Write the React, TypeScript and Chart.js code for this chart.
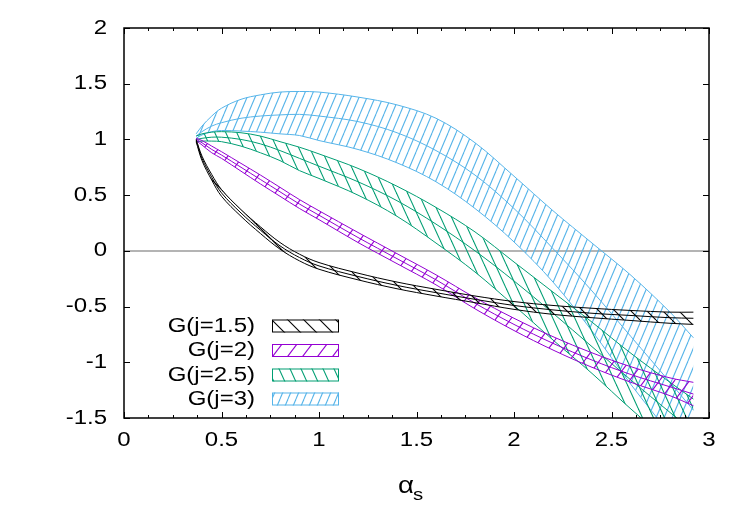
import React, { useEffect, useRef } from 'react';
import { Chart, registerables } from 'chart.js';

Chart.register(...registerables);

// Strong coupling values at which the bands are evaluated
const alphaS = [0.37, 0.4, 0.45, 0.5, 0.6, 0.7, 0.8, 0.9, 1.0, 1.2, 1.4, 1.6, 1.8, 2.0, 2.2, 2.4, 2.6, 2.8, 2.92];

// G(j=1.5): upper edge, central value, lower edge
const g15Upper = [1.0, 0.85, 0.685, 0.55, 0.37, 0.215, 0.075, -0.03, -0.105, -0.2, -0.28, -0.345, -0.405, -0.455, -0.49, -0.515, -0.535, -0.55, -0.55];
const g15Central = [0.99, 0.83, 0.66, 0.52, 0.34, 0.185, 0.045, -0.06, -0.135, -0.23, -0.31, -0.375, -0.435, -0.49, -0.53, -0.56, -0.58, -0.6, -0.605];
const g15Lower = [0.98, 0.81, 0.635, 0.49, 0.31, 0.155, 0.015, -0.09, -0.165, -0.26, -0.34, -0.405, -0.465, -0.525, -0.57, -0.6, -0.625, -0.65, -0.66];

// G(j=2)
const g2Upper = [1.01, 0.99, 0.94, 0.89, 0.785, 0.68, 0.57, 0.46, 0.36, 0.165, -0.025, -0.215, -0.42, -0.605, -0.77, -0.915, -1.04, -1.14, -1.18];
const g2Central = [1.0, 0.97, 0.91, 0.86, 0.75, 0.64, 0.53, 0.42, 0.32, 0.12, -0.07, -0.26, -0.47, -0.66, -0.83, -0.98, -1.11, -1.22, -1.285];
const g2Lower = [0.99, 0.95, 0.88, 0.83, 0.715, 0.6, 0.49, 0.38, 0.28, 0.075, -0.115, -0.305, -0.52, -0.715, -0.89, -1.045, -1.18, -1.3, -1.39];

// G(j=2.5)
const g25Upper = [1.03, 1.05, 1.065, 1.07, 1.06, 1.03, 0.98, 0.93, 0.87, 0.74, 0.58, 0.39, 0.17, -0.1, -0.37, -0.64, -0.92, -1.18, -1.33];
const g25Central = [1.0, 1.01, 1.02, 1.02, 1.0, 0.96, 0.9, 0.83, 0.76, 0.62, 0.45, 0.24, 0.0, -0.27, -0.56, -0.86, -1.16, -1.45, -1.62];
const g25Lower = [0.98, 0.985, 0.985, 0.98, 0.94, 0.88, 0.81, 0.72, 0.65, 0.5, 0.31, 0.07, -0.19, -0.49, -0.8, -1.1, -1.42, -1.72, -1.9];

// G(j=3)
const g3Upper = [1.05, 1.12, 1.21, 1.28, 1.36, 1.4, 1.425, 1.43, 1.425, 1.38, 1.31, 1.19, 0.97, 0.67, 0.36, 0.07, -0.22, -0.55, -0.78];
const g3Central = [1.03, 1.07, 1.12, 1.15, 1.19, 1.21, 1.22, 1.225, 1.21, 1.16, 1.06, 0.9, 0.68, 0.38, 0.02, -0.36, -0.77, -1.18, -1.43];
const g3Lower = [1.01, 1.04, 1.07, 1.08, 1.075, 1.065, 1.05, 1.035, 0.99, 0.91, 0.79, 0.62, 0.38, 0.08, -0.28, -0.72, -1.2, -1.65, -1.95];

const legendLabels = ['G(j=1.5)', 'G(j=2)', 'G(j=2.5)', 'G(j=3)'];
const bandColors = ['#000000', '#9400d3', '#009e73', '#56b4e9'];

const xTickValues = [0, 0.5, 1, 1.5, 2, 2.5, 3];
const yTickValues = [-1.5, -1, -0.5, 0, 0.5, 1, 1.5, 2];

const FONT = '"Liberation Sans", Arial, Helvetica, sans-serif';
const TEXT_SIZE = 20;
const TEXT_STRETCH = 1.2;

type Hatch = { dir: 1 | -1; spacing: number; slope: number };
// hatch style per band: dir 1 = "/", dir -1 = "\"
const hatches: Hatch[] = [
  { dir: -1, spacing: 16, slope: 1 },
  { dir: 1, spacing: 15, slope: 1.3 },
  { dir: -1, spacing: 11, slope: 2.2 },
  { dir: 1, spacing: 8, slope: 2.4 },
];

function makeHatch(ctx: CanvasRenderingContext2D, color: string, h: Hatch): CanvasPattern | string {
  const w = h.spacing;
  const ht = Math.max(1, Math.round(h.spacing * h.slope));
  const c = document.createElement('canvas');
  c.width = w;
  c.height = ht;
  const g = c.getContext('2d');
  if (!g) return color;
  g.strokeStyle = color;
  g.lineWidth = 1.1;
  for (let k = -1; k <= 1; k++) {
    g.beginPath();
    if (h.dir === 1) {
      g.moveTo(k * w, ht);
      g.lineTo(k * w + w, 0);
    } else {
      g.moveTo(k * w, 0);
      g.lineTo(k * w + w, ht);
    }
    g.stroke();
  }
  return ctx.createPattern(c, 'repeat') || color;
}

// text widened horizontally around its anchor point
function stretchedText(c: CanvasRenderingContext2D, text: string, x: number, y: number, align: CanvasTextAlign) {
  c.save();
  c.translate(x, y);
  c.scale(TEXT_STRETCH, 1);
  c.textAlign = align;
  c.fillText(text, 0, 0);
  c.restore();
}

const toPoints = (ys: number[]) => alphaS.map((x, i) => ({ x, y: ys[i] }));

export default function App() {
  const canvasRef = useRef<HTMLCanvasElement | null>(null);

  useEffect(() => {
    const canvas = canvasRef.current;
    if (!canvas) return;
    const ctx = canvas.getContext('2d');
    if (!ctx) return;

    const bands = [
      [g15Upper, g15Central, g15Lower],
      [g2Upper, g2Central, g2Lower],
      [g25Upper, g25Central, g25Lower],
      [g3Upper, g3Central, g3Lower],
    ];
    const patterns = bandColors.map((c, i) => makeHatch(ctx, c, hatches[i]));

    const lineBase = {
      borderWidth: 1,
      pointRadius: 0,
      tension: 0.35,
    };

    const datasets: any[] = [];
    bands.forEach(([up, mid, low], i) => {
      const color = bandColors[i];
      datasets.push({ ...lineBase, label: legendLabels[i] + ' lower', data: toPoints(low), borderColor: color, fill: false });
      datasets.push({
        ...lineBase,
        label: legendLabels[i],
        data: toPoints(up),
        borderColor: color,
        backgroundColor: patterns[i],
        fill: '-1',
      });
      datasets.push({ ...lineBase, label: legendLabels[i] + ' central', data: toPoints(mid), borderColor: color, fill: false });
    });

    const framePlugin = {
      id: 'frame',
      afterDraw(chart: any) {
        const c: CanvasRenderingContext2D = chart.ctx;
        const { left, right, top, bottom } = chart.chartArea;
        const xs = chart.scales.x;
        const ys = chart.scales.y;
        c.save();
        c.strokeStyle = '#000';
        c.lineWidth = 1;
        // tick marks pointing inward on all four sides
        const majorLen = 6;
        const minorLen = 3;
        c.beginPath();
        for (let v = 0; v <= 3.0001; v += 0.125) {
          const px = Math.round(xs.getPixelForValue(v)) + 0.5;
          const isMajor = Math.abs(v * 2 - Math.round(v * 2)) < 1e-6;
          const len = isMajor ? majorLen : minorLen;
          c.moveTo(px, bottom);
          c.lineTo(px, bottom - len);
          c.moveTo(px, top);
          c.lineTo(px, top + len);
        }
        yTickValues.forEach((v) => {
          const py = Math.round(ys.getPixelForValue(v)) + 0.5;
          c.moveTo(left, py);
          c.lineTo(left + majorLen, py);
          c.moveTo(right, py);
          c.lineTo(right - majorLen, py);
        });
        c.stroke();
        // frame
        c.lineWidth = 1.5;
        c.strokeRect(left, top, right - left, bottom - top);

        // tick labels
        c.fillStyle = '#000';
        c.font = `${TEXT_SIZE}px ${FONT}`;
        c.textBaseline = 'middle';
        xTickValues.forEach((v) => {
          stretchedText(c, String(v), xs.getPixelForValue(v), bottom + 22, 'center');
        });
        yTickValues.forEach((v) => {
          stretchedText(c, String(v), left - 17, ys.getPixelForValue(v), 'right');
        });

        // key
        const rowY = [326, 350.5, 375, 399];
        legendLabels.forEach((lab, i) => {
          const cy = rowY[i];
          c.fillStyle = '#000';
          stretchedText(c, lab, 255, cy, 'right');
          c.fillStyle = patterns[i] as any;
          c.fillRect(272, cy - 6.5, 67, 13);
          c.strokeStyle = bandColors[i];
          c.lineWidth = 1;
          c.strokeRect(272.5, cy - 6, 66, 12);
        });

        // axis title: alpha with subscript s
        c.fillStyle = '#000';
        c.textBaseline = 'alphabetic';
        c.font = `23px ${FONT}`;
        stretchedText(c, 'α', 406, 493, 'center');
        c.font = `17px ${FONT}`;
        stretchedText(c, 's', 418, 500, 'center');
        c.restore();
      },
    };

    const chart = new Chart(canvas, {
      type: 'line',
      data: { datasets },
      options: {
        animation: false,
        responsive: false,
        events: [],
        layout: { padding: { top: 28, right: 41, left: 0, bottom: 0 } },
        scales: {
          x: {
            type: 'linear',
            min: 0,
            max: 3,
            afterBuildTicks: (s: any) => {
              s.ticks = xTickValues.map((value) => ({ value }));
            },
            afterFit: (s: any) => {
              s.height = 107;
            },
            ticks: { display: false },
            grid: { display: false, drawTicks: false },
            border: { display: false },
          },
          y: {
            type: 'linear',
            min: -1.5,
            max: 2,
            afterBuildTicks: (s: any) => {
              s.ticks = yTickValues.map((value) => ({ value }));
            },
            afterFit: (s: any) => {
              s.width = 124;
            },
            ticks: { display: false },
            grid: {
              drawTicks: false,
              lineWidth: 2,
              color: (c: any) => (c.tick && c.tick.value === 0 ? '#b4b4b4' : 'rgba(0,0,0,0)'),
            },
            border: { display: false },
          },
        },
        plugins: {
          legend: { display: false },
          tooltip: { enabled: false },
        },
      },
      plugins: [framePlugin],
    });

    return () => chart.destroy();
  }, []);

  return (
    <div style={{ position: 'fixed', left: 0, top: 0, width: 750, height: 525, background: '#fff' }}>
      <canvas ref={canvasRef} width={750} height={525} style={{ display: 'block', width: 750, height: 525 }} />
    </div>
  );
}
